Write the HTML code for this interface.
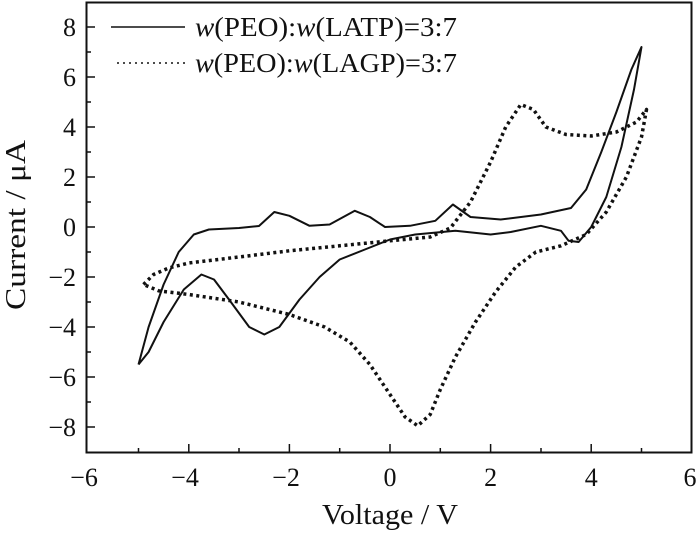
<!DOCTYPE html>
<html><head><meta charset="utf-8"><style>
body{margin:0;background:#fff}
svg text{font-family:"Liberation Serif",serif;fill:#111}
</style></head><body>
<svg width="700" height="530" viewBox="0 0 700 530" xmlns="http://www.w3.org/2000/svg">
<rect x="86.5" y="2.5" width="605" height="450" fill="none" stroke="#111" stroke-width="2"/>
<g stroke="#111" stroke-width="1.5">
<path d="M87 27h8M87 77h8M87 127h8M87 177h8M87 227h8M87 277h8M87 327h8M87 377h8M87 427h8"/>
<path d="M87 52h4M87 102h4M87 152h4M87 202h4M87 252h4M87 302h4M87 352h4M87 402h4"/>
<path d="M188.8 452v-8M289.4 452v-8M390 452v-8M490.6 452v-8M591.2 452v-8"/>
<path d="M138.5 452v-4M239 452v-4M339.7 452v-4M440.3 452v-4M541 452v-4M641.5 452v-4"/>
</g>
<g font-size="26" text-anchor="end">
<text x="76" y="36">8</text><text x="76" y="86">6</text><text x="76" y="136">4</text>
<text x="76" y="186">2</text><text x="76" y="236">0</text><text x="76" y="286">−2</text>
<text x="76" y="336">−4</text><text x="76" y="386">−6</text><text x="76" y="436">−8</text>
</g>
<g font-size="26" text-anchor="middle">
<text x="84" y="486">−6</text><text x="185" y="486">−4</text><text x="286" y="486">−2</text>
<text x="390" y="486">0</text><text x="490.6" y="486">2</text><text x="591.2" y="486">4</text><text x="690" y="486">6</text>
</g>
<text x="322" y="524" font-size="28" textLength="136" lengthAdjust="spacingAndGlyphs">Voltage / V</text>
<text transform="translate(25 310) rotate(-90)" font-size="28" textLength="170" lengthAdjust="spacingAndGlyphs">Current / μA</text>
<line x1="111" y1="27" x2="185" y2="27" stroke="#111" stroke-width="1.5"/>
<line x1="117" y1="63" x2="185" y2="63" stroke="#111" stroke-width="1.5" stroke-dasharray="2 4"/>
<text x="195" y="36" font-size="27" textLength="262" lengthAdjust="spacingAndGlyphs"><tspan font-style="italic">w</tspan>(PEO):<tspan font-style="italic">w</tspan>(LATP)=3:7</text>
<text x="195" y="72" font-size="27" textLength="262" lengthAdjust="spacingAndGlyphs"><tspan font-style="italic">w</tspan>(PEO):<tspan font-style="italic">w</tspan>(LAGP)=3:7</text>
<polyline fill="none" stroke="#111" stroke-width="2" stroke-linejoin="round" points="138.5,364.5 148.6,327 163.6,284.5 178.7,252 193.8,234.5 208.9,229.5 239,228 259,226 274.3,212 289.4,215.8 309.5,225.8 329.6,224.5 354.8,210.8 369.9,217 385,227 410,225.8 435.3,220.8 452.9,204.5 470.5,217 500.7,219.5 540.9,214.5 571,208 586.2,189.5 601.3,152 616.4,112 631.4,69.5 641.5,47 634,89.5 621.4,147 606.3,197 591.2,227 578.6,242 568.6,240.8 561,230.8 540.9,225.8 510.7,232 490.6,234.5 455.4,230.8 415.2,234.5 390,239.5 364.9,249.5 339.7,259.5 319.6,277 299.5,299.5 279.3,327 264.3,334.5 249.2,327 229,299.5 214,279.5 201.4,274.5 183.8,289.5 163.6,322 148.6,352 138.5,364.5"/>
<polyline fill="none" stroke="#111" stroke-width="3.5" stroke-dasharray="3 3.5" stroke-linejoin="round" points="143.5,284.5 153.6,274.5 168.7,268 188.8,263 239,257 289.4,250.8 339.7,245.8 390,240.8 430.2,237 450.4,228 470.5,202 490.6,162 505.7,127 520.8,104.5 533.4,109.5 545.9,127 566,134.5 591.2,136 616.4,132 636.5,122 646.5,109.5 641.5,137 626.4,177 606.3,212 586.2,234.5 561,245.8 535.9,252 515.8,267 495.6,292 475.5,322 455.4,357 440.3,389.5 430.2,414.5 417.7,425.8 405.1,417 390,394.5 369.9,364.5 349.8,342 324.6,327 289.4,314.5 239,302 188.8,294.5 158.6,290.8 143.5,284.5"/>
</svg>
</body></html>
